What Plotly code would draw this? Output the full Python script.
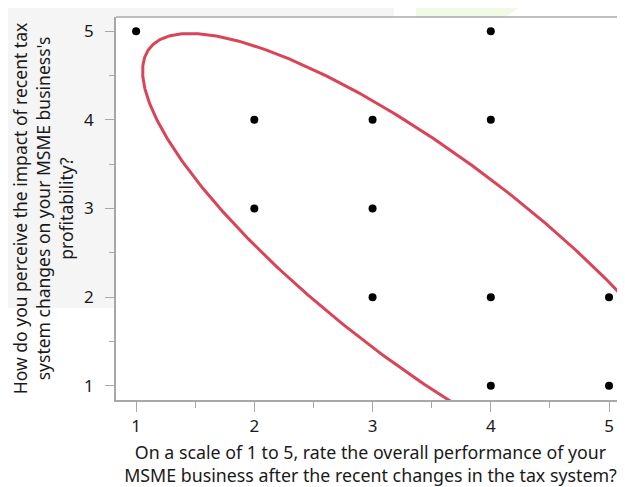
import numpy as np
import plotly.graph_objects as go

# Data (responses)
x_vals = [1, 4, 2, 3, 4, 2, 3, 3, 4, 5, 4, 5]
y_vals = [5, 5, 4, 4, 4, 3, 3, 2, 2, 2, 1, 1]
tick_vals = [1, 2, 3, 4, 5]
tick_text = ["1", "2", "3", "4", "5"]

# Density ellipse parameters (data units)
ellipse_center = (3.494, 2.387)
ellipse_semi_axes = (3.407, 1.017)
ellipse_angle_deg = -47.02

x_title = "On a scale of 1 to 5, rate the overall performance of your<br>MSME business after the recent changes in the tax system?"
y_title = "How do you perceive the impact of recent tax<br>system changes on your MSME business's<br>profitability?"

th = np.radians(ellipse_angle_deg)
t = np.linspace(0, 2 * np.pi, 500)
ua, ub = ellipse_semi_axes
ex = ellipse_center[0] + ua * np.cos(t) * np.cos(th) - ub * np.sin(t) * np.sin(th)
ey = ellipse_center[1] + ua * np.cos(t) * np.sin(th) + ub * np.sin(t) * np.cos(th)

fig = go.Figure()
fig.add_trace(go.Scatter(x=ex, y=ey, mode="lines", line=dict(color="#d94457", width=3), hoverinfo="skip"))
fig.add_trace(go.Scatter(x=x_vals, y=y_vals, mode="markers", marker=dict(color="black", size=8)))

axis_col = "#a8a8a8"
font = "Noto Sans, Open Sans, sans-serif"
fig.update_layout(
    width=617, height=479,
    margin=dict(l=108, r=0, t=9, b=87),
    showlegend=False,
    plot_bgcolor="white", paper_bgcolor="white",
    font=dict(family=font, size=17, color="#1a1a1a"),
    shapes=[
        dict(type="rect", xref="paper", yref="paper", x0=-0.25, x1=0, y0=0.2402, y1=1.05,
             fillcolor="#f5f5f5", line=dict(width=0), layer="below"),
        dict(type="rect", xref="paper", yref="paper", x0=0, x1=0.5462, y0=1.0, y1=1.05,
             fillcolor="#f5f5f5", line=dict(width=0), layer="below"),
        dict(type="path", xref="paper", yref="paper",
             path="M 0.5894 1.05 L 0.8212 1.05 L 0.7642 1.0 L 0.5894 1.0 Z",
             fillcolor="#effbe4", line=dict(width=0), layer="below"),
        dict(type="line", xref="paper", yref="paper", x0=0, x1=1.01, y0=1, y1=1,
             line=dict(color=axis_col, width=1.5)),
    ],
)
fig.update_xaxes(range=[0.83, 5.135], showgrid=False, zeroline=False, showline=True,
                 linecolor=axis_col, linewidth=1.5,
                 ticks="outside", ticklen=10, tickcolor=axis_col, tickvals=tick_vals, ticktext=tick_text,
                 minor=dict(ticks="outside", ticklen=6, tickcolor=axis_col, dtick=0.5, tick0=0.5),
                 title=dict(text=x_title, font=dict(size=17.8), standoff=15))
fig.update_yaxes(range=[0.84, 5.16], showgrid=False, zeroline=False, showline=True,
                 linecolor=axis_col, linewidth=1.5,
                 ticks="outside", ticklen=9, tickcolor=axis_col, tickvals=tick_vals, ticktext=tick_text,
                 ticklabelstandoff=8,
                 minor=dict(ticks="outside", ticklen=5, tickcolor=axis_col, dtick=0.5, tick0=0.5),
                 title=dict(text=y_title, font=dict(size=17.5), standoff=8))
fig.write_html("out.html")
